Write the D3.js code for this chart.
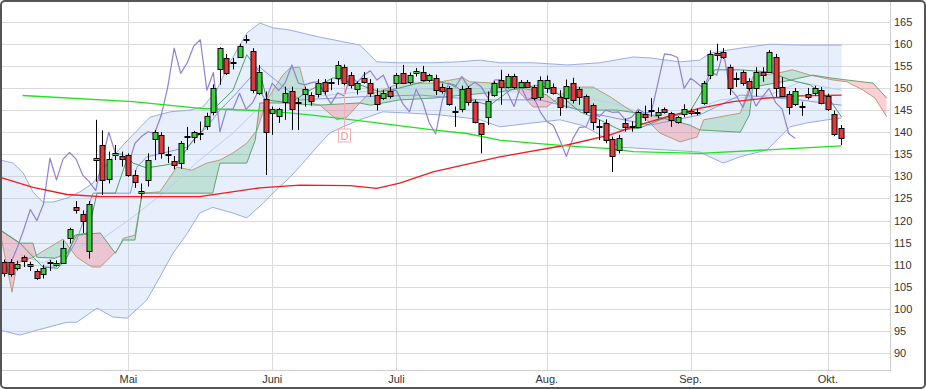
<!DOCTYPE html>
<html><head><meta charset="utf-8">
<script src="https://cdn.jsdelivr.net/npm/d3@7"></script>
<style>body{margin:0;background:#fff}svg{display:block}</style>
</head><body><svg id="c" width="926" height="389"></svg>
<script>
// ---- candle data (trading-day index 0..128) ----
const open=[110.7,110.7,109.2,111.8,110.2,108.6,108.0,110.3,110.0,110.5,
116.0,123.1,121.6,113.1,133.6,137.1,129.3,134.8,134.6,134.8,
130.3,126.2,129.2,138.4,139.4,135.1,133.5,133.1,139.1,139.0,
139.8,141.4,144.6,154.2,156.7,155.8,157.1,161.0,158.4,148.8,
147.4,144.3,143.7,146.9,149.3,146.8,148.6,148.4,148.6,151.3,
151.3,152.2,154.8,152.9,149.7,152.2,151.2,148.4,147.7,149.3,
151.1,153.3,151.4,153.3,153.7,151.8,152.3,150.2,149.9,144.7,
145.2,149.9,146.9,142.0,143.5,148.4,151.8,150.3,152.7,150.2,
151.3,150.3,148.0,149.9,150.2,148.0,147.7,151.1,149.7,148.2,
146.1,141.1,142.1,138.4,136.0,142.1,141.3,141.1,144.1,145.1,
143.9,145.2,144.3,142.2,144.1,144.8,144.3,146.5,152.9,158.0,
158.2,154.7,152.3,153.5,151.6,149.9,153.7,153.7,157.1,150.2,
148.6,146.4,146.0,148.6,148.8,149.5,148.2,144.2,140.9];
const close=[108.1,108.0,110.2,110.9,109.7,107.1,109.2,110.7,110.4,113.9,
118.0,122.5,120.0,123.7,134.1,129.2,133.9,135.4,133.9,130.3,
128.8,126.8,133.7,140.0,135.2,135.0,132.6,137.5,139.0,140.1,
139.7,143.7,150.1,159.0,153.3,155.7,159.5,160.9,149.5,153.5,
140.1,145.2,145.2,148.8,145.2,146.7,149.7,147.1,151.1,149.4,
151.2,155.2,151.1,150.7,151.2,151.4,148.8,146.4,148.9,148.2,
152.9,151.2,152.9,153.9,151.8,152.9,149.5,149.4,146.4,144.6,
149.7,146.9,142.2,139.6,147.1,151.1,150.2,152.6,150.2,151.3,
150.2,147.7,151.8,151.9,148.9,145.8,150.5,147.3,147.9,144.6,
142.4,141.5,138.2,134.5,138.6,141.1,141.2,144.6,143.5,145.0,
144.5,144.6,142.8,143.4,145.2,144.3,144.6,151.1,157.7,157.5,
156.9,149.9,152.2,151.1,149.9,153.7,152.9,158.2,149.9,148.2,
145.6,149.4,145.9,148.0,149.9,146.7,145.2,139.7,138.6];
const high=[111.2,111.3,110.9,112.1,110.7,109.0,110.0,111.1,111.0,115.5,
118.4,124.4,122.3,124.4,142.8,140.4,135.6,137.1,135.6,135.2,
131.4,128.4,135.2,140.5,140.0,136.7,134.6,138.0,141.2,140.3,
142.4,144.4,150.8,159.2,157.7,156.8,160.0,162.0,159.0,155.2,
149.2,145.8,145.5,150.3,150.3,147.7,150.3,149.0,152.0,152.0,
152.1,156.1,155.3,153.6,151.5,153.6,152.0,149.9,149.5,150.2,
153.4,155.2,153.5,154.5,155.0,153.2,153.0,151.0,150.4,145.8,
150.5,150.4,147.4,142.0,149.2,151.5,154.1,153.2,153.2,151.8,
151.8,150.7,152.6,152.8,151.0,149.5,151.9,152.3,150.2,148.5,
146.5,142.8,142.9,139.0,139.4,143.1,142.5,144.9,146.0,147.7,
145.6,145.6,144.6,143.7,146.3,145.3,145.3,151.6,158.5,160.0,
159.0,155.3,153.5,154.0,152.2,154.7,154.7,158.6,157.7,152.4,
149.3,150.0,146.9,150.0,150.5,150.2,148.7,144.9,141.6];
const low=[107.3,107.3,108.7,109.5,108.6,106.6,106.9,108.6,109.6,110.3,
114.8,121.6,117.2,111.4,128.8,125.8,128.4,133.7,132.2,129.9,
127.4,125.0,127.7,133.7,134.0,133.0,131.6,131.7,136.0,137.5,
138.2,140.5,143.8,150.7,152.9,154.2,156.8,160.1,148.8,148.4,
130.3,139.4,142.1,142.8,140.5,140.5,145.8,146.0,147.8,148.5,
149.5,150.7,150.6,149.9,148.5,151.0,148.0,144.9,147.3,147.6,
149.9,151.1,150.8,152.6,151.5,151.3,148.4,148.7,146.0,141.2,
144.5,146.0,142.0,135.2,141.6,148.0,146.2,149.9,149.8,150.0,
150.0,147.2,147.2,148.9,148.5,143.7,145.4,146.5,146.2,144.0,
140.5,138.2,137.5,131.0,135.2,140.1,140.1,140.9,142.5,143.5,
143.1,144.2,141.2,141.9,143.4,143.8,143.8,146.2,152.0,156.2,
156.6,148.4,150.2,150.5,149.4,148.1,151.4,153.4,148.0,148.0,
144.0,145.9,143.7,147.4,148.3,146.3,144.8,139.1,137.1];

// ---- axis labels ----
const monthLabels=["Mai","Juni","Juli","Aug.","Sep.","Okt."];
const monthStart=[19,41,60,83,105,126];
const yTicks=[90,95,100,105,110,115,120,125,130,135,140,145,150,155,160,165];
const dividendIndex=52;
const laggingShift=7;

// ---- indicator lines (index, value) ----
const bbUpperIdx=[-0.6,1.4,2.9,4.4,5.9,7.5,9.6,11.6,13.6,15.9,18.2,22.3,25.4,28.4,30.4,32.5,34.5,37.1,39.1,41.1,43.7,46.8,48.3,54.4,57.0,60.1,65.6,69.3,72.8,75.8,80.9,86.1,91.1,96.2,98.8,103.4,106.4,108.0,112.6,117.1,121.7,128.1];
const bbUpper=[133.7,133.0,130.8,126.5,124.2,124.2,125.1,126.5,128.5,133.2,137.1,143.4,144.6,145.0,145.7,149.5,155.7,162.4,164.7,163.6,163.1,162.0,161.5,159.7,155.9,155.7,155.7,155.9,156.3,155.7,155.7,155.2,155.7,157.0,156.8,155.9,156.3,157.9,159.0,159.9,159.7,159.7];
const bbLowerIdx=[-0.6,2.4,5.0,9.6,11.1,14.2,16.6,18.8,21.8,23.8,25.8,28.0,29.9,31.9,35.0,37.1,39.6,41.1,43.7,45.7,47.8,49.8,51.8,54.4,57.9,62.1,66.7,70.8,72.8,75.8,80.9,85.0,88.5,91.1,94.2,98.8,106.4,110.0,112.5,116.7,120.2,122.8,125.9,128.1];
const bbLower=[95.2,94.1,95.2,97.0,97.0,100.2,98.2,97.9,102.0,107.2,112.6,117.1,121.7,123.0,121.7,120.6,123.9,126.2,129.8,133.0,136.6,139.8,141.2,142.8,144.6,144.3,143.9,143.2,142.8,141.2,142.1,142.8,141.5,139.4,136.6,136.2,135.5,133.0,134.4,136.0,141.2,142.1,142.8,143.2];
const bbMidIdx=[-0.6,5.9,12.1,14.7,19.7,24.9,29.9,35.0,38.1,40.2,45.2,52.9,60.5,68.2,75.8,83.5,88.5,94.2,98.3,103.4,109.5,117.1,121.7,128.1];
const bbMid=[114.0,110.4,114.5,115.6,120.8,126.9,133.7,139.8,144.3,146.6,147.7,148.9,150.0,149.5,149.1,149.1,148.0,146.1,143.9,143.9,147.3,148.4,151.3,149.5];

const smaRedIdx=[-0.6,4.4,9.6,14.7,20.8,29.9,39.1,45.2,52.9,57.0,60.5,65.6,75.8,86.1,92.7,96.2,101.4,106.4,111.5,116.7,121.7,128.1];
const smaRed=[129.8,127.5,125.9,125.4,125.4,125.4,127.4,128.0,127.9,127.3,128.5,131.0,134.4,137.1,139.4,141.2,143.5,145.4,146.9,147.7,148.2,148.4];
const smaLimeIdx=[2.8,19.7,30.0,40.2,46.8,55.5,65.6,70.8,75.8,80.9,86.1,92.7,96.2,106.4,116.7,128.1];
const smaLime=[148.3,146.9,145.4,144.8,143.9,142.4,140.5,139.7,138.2,137.5,136.9,136.3,135.6,135.2,136.0,136.9];

const spanAIdx=[-0.6,1.2,2.0,4.4,9.0,11.1,13.4,14.7,17.3,18.2,20.0,21.1,23.8,26.4,28.7,31.0,33.0,35.0,37.1,38.7,40.2,42.6,43.7,45.2,46.0,46.8,48.3,50.9,52.4,54.4,55.5,57.9,60.5,65.6,70.2,71.2,74.8,77.4,78.9,80.9,83.0,85.0,86.5,90.1,92.7,95.7,98.3,100.3,103.4,106.0,107.0,112.6,114.5,119.1,120.6,123.3,126.8,128.9,131.4,133.2,135.0];
const spanA=[117.2,103.8,110.4,111.7,115.8,111.7,109.5,109.5,113.3,116.0,116.7,126.2,126.5,132.1,131.4,133.0,133.7,135.3,137.5,140.5,147.3,152.9,154.5,154.7,150.2,146.6,146.1,142.8,143.4,146.6,148.4,149.5,151.1,151.1,152.3,151.4,151.1,151.1,148.9,145.7,145.7,148.0,150.2,150.2,148.0,145.0,142.8,139.8,137.8,138.9,142.8,144.3,152.5,153.6,154.1,152.9,151.8,151.4,149.5,147.7,143.5];
const spanBIdx=[-0.6,2.4,4.4,5.0,7.8,9.6,11.1,14.7,17.0,18.2,20.0,21.1,31.9,33.0,37.1,38.4,39.1,42.6,47.8,54.4,56.0,60.5,65.6,70.2,75.8,78.9,80.9,83.0,85.0,88.1,93.7,98.8,104.9,106.4,112.6,114.0,114.5,119.1,123.7,126.3,127.8,132.9,135.0];
const spanB=[117.8,114.9,114.9,111.7,111.5,112.6,116.7,117.2,112.6,115.6,115.6,126.2,126.2,133.0,133.0,138.2,146.6,146.6,146.1,146.6,146.1,147.3,147.7,148.4,149.1,150.0,149.5,148.4,146.1,145.0,145.0,143.9,141.6,140.5,140.0,143.9,150.2,151.4,152.9,152.3,152.0,151.1,147.7];
const tenkanIdx=[-0.6,2.4,5.9,8.2,9.6,10.8,12.8,14.2,17.0,18.9,19.7,21.8,26.4,28.9,30.4,31.9,35.0,37.1,39.1,40.2,43.7,46.8,50.3,54.4,57.5,60.5,65.1,68.9,71.2,74.3,77.4,82.0,85.0,88.1,91.1,94.2,97.2,100.3,104.9,106.4,108.7,112.6,117.1,120.2,123.3,126.3,128.1];
const tenkan=[117.9,114.9,109.5,109.2,111.7,116.7,117.2,126.2,126.2,134.4,133.0,131.9,133.0,138.2,140.5,145.0,149.5,157.5,153.6,147.3,146.6,149.5,152.3,150.7,149.1,150.0,151.8,150.7,147.3,146.1,149.5,150.7,148.4,144.6,142.8,140.5,140.9,142.8,144.6,148.4,154.1,154.1,153.6,151.8,150.7,147.3,143.4];
const kijunIdx=[5.9,7.8,9.6,11.1,13.6,19.3,20.3,21.8,28.0,31.0,33.0,35.0,39.1,45.2,54.4,63.6,72.8,82.0,91.1,98.8,106.4,112.6,121.7,128.1];
const kijun=[109.5,109.5,111.7,115.6,126.2,126.2,132.1,134.4,136.6,141.2,145.0,148.0,154.7,147.3,148.0,148.4,147.3,147.3,143.9,141.6,143.9,148.4,147.3,146.1];

// ---- drawing ----
const PW=890, PH=370;
const svg=d3.select("#c");
const x=d3.scaleLinear().domain([-0.642,135.5]).range([0,PW]);
const y=d3.scaleLinear().domain([86.2,169.9]).range([PH,0]);
const pts=(ix,vs)=>ix.map((d,k)=>[d,vs[k]]);
const line=d3.line().x(d=>x(d[0])).y(d=>y(d[1]));
const px=v=>Math.round(v)+0.5;

svg.append("rect").attr("width",926).attr("height",389).attr("fill","#fff");
const defs=svg.append("defs");
defs.append("clipPath").attr("id","plot").append("rect").attr("width",PW).attr("height",PH);

const g=svg.append("g").attr("clip-path","url(#plot)");
// grid
g.selectAll(".hg").data(yTicks).join("line").attr("x1",0).attr("x2",PW)
 .attr("y1",d=>px(y(d))).attr("y2",d=>px(y(d))).attr("stroke","#dadada");
g.selectAll(".vg").data(monthStart).join("line").attr("y1",0).attr("y2",PH)
 .attr("x1",d=>px(x(d))).attr("x2",d=>px(x(d))).attr("stroke","#dadada");

// bollinger fill
const up=pts(bbUpperIdx,bbUpper), lo=pts(bbLowerIdx,bbLower);
g.append("path").attr("d",line(up.concat(lo.slice().reverse()))+"Z")
 .attr("fill","rgba(170,198,245,0.28)").attr("stroke","none");

// ichimoku cloud (difference fill)
const A=pts(spanAIdx,spanA), B=pts(spanBIdx,spanB);
const above=d3.area().x(d=>x(d[0])).y0(0).y1(d=>y(d[1]));
const below=d3.area().x(d=>x(d[0])).y0(PH).y1(d=>y(d[1]));
defs.append("clipPath").attr("id","belowA").append("path").attr("d",below(A));
defs.append("clipPath").attr("id","belowB").append("path").attr("d",below(B));
g.append("g").attr("clip-path","url(#belowA)").append("path").attr("d",above(B))
 .attr("fill","rgba(60,175,90,0.22)");
g.append("g").attr("clip-path","url(#belowB)").append("path").attr("d",above(A))
 .attr("fill","rgba(245,110,120,0.32)");

function drawLine(data,color,w){
  g.append("path").attr("d",line(data)).attr("fill","none").attr("stroke",color)
   .attr("stroke-width",w).attr("stroke-linejoin","round");
}
drawLine(up,"#9cace2",1);
drawLine(lo,"#9cace2",1);
drawLine(pts(bbMidIdx,bbMid),"#b9cff4",1);
drawLine(A,"#bb9a7c",1);
drawLine(B,"#5fa574",1);
drawLine(pts(kijunIdx,kijun),"#8e96e2",1);
drawLine(pts(tenkanIdx,tenkan),"#4f9e60",1);
// lagging line: closes drawn shifted back
const lag=close.map((c,i)=>[i-laggingShift,c]).filter(d=>d[0]>=0);
drawLine(lag,"#8f80d2",1.2);
drawLine(pts(smaRedIdx,smaRed),"#f01c1c",1.3);
drawLine(pts(smaLimeIdx,smaLime),"#22e022",1.3);

// dividend marker
const dx=px(x(dividendIndex));
g.append("line").attr("x1",dx).attr("x2",dx).attr("y1",y(low[dividendIndex])).attr("y2",129)
 .attr("stroke","#eeb0b0");
g.append("rect").attr("x",dx-6).attr("y",129).attr("width",12).attr("height",13)
 .attr("fill","#fff").attr("stroke","#eeb0b0");
g.append("text").attr("x",dx).attr("y",140).attr("text-anchor","middle")
 .attr("font-family","Liberation Sans, Arial, sans-serif").attr("font-size",11)
 .attr("fill","#e89898").text("D");

// candles
const candles=open.map((o,i)=>({i,o,c:close[i],h:high[i],l:low[i]}));
const cg=g.append("g");
candles.forEach(d=>{
  const cx=px(x(d.i));
  cg.append("line").attr("x1",cx).attr("x2",cx).attr("y1",y(d.h)).attr("y2",y(d.l))
    .attr("stroke","#000").attr("stroke-width",1);
  const top=Math.round(y(Math.max(d.o,d.c))), bot=Math.round(y(Math.min(d.o,d.c)));
  const hgt=Math.max(bot-top,1);
  cg.append("rect").attr("x",cx-2.5).attr("y",top+0.5).attr("width",5).attr("height",hgt)
    .attr("fill",d.c>=d.o?"#3ccf3c":"#e03a3a").attr("stroke","#000").attr("stroke-width",1);
});

// plot border
svg.append("line").attr("x1",PW+0.5).attr("x2",PW+0.5).attr("y1",0).attr("y2",PH).attr("stroke","#cfcfcf");
svg.append("line").attr("x1",0).attr("x2",PW+1).attr("y1",PH+0.5).attr("y2",PH+0.5).attr("stroke","#cfcfcf");

// y labels
svg.selectAll(".yl").data(yTicks).join("text").attr("x",894).attr("y",d=>y(d)+4)
 .attr("font-family","Liberation Sans, Arial, sans-serif").attr("font-size",11).attr("fill","#333")
 .text(d=>d);
// x labels
svg.selectAll(".xl").data(monthStart).join("text").attr("x",d=>x(d)).attr("y",383)
 .attr("text-anchor","middle").attr("font-family","'Liberation Sans Narrow', 'Liberation Sans', Arial, sans-serif")
 .attr("font-stretch","condensed").attr("font-size",11).attr("fill","#333")
 .text((d,k)=>monthLabels[k]);

// outer frame
svg.append("rect").attr("x",1).attr("y",1).attr("width",924).attr("height",387).attr("rx",4)
 .attr("fill","none").attr("stroke","#555").attr("stroke-width",2);
</script></body></html>
